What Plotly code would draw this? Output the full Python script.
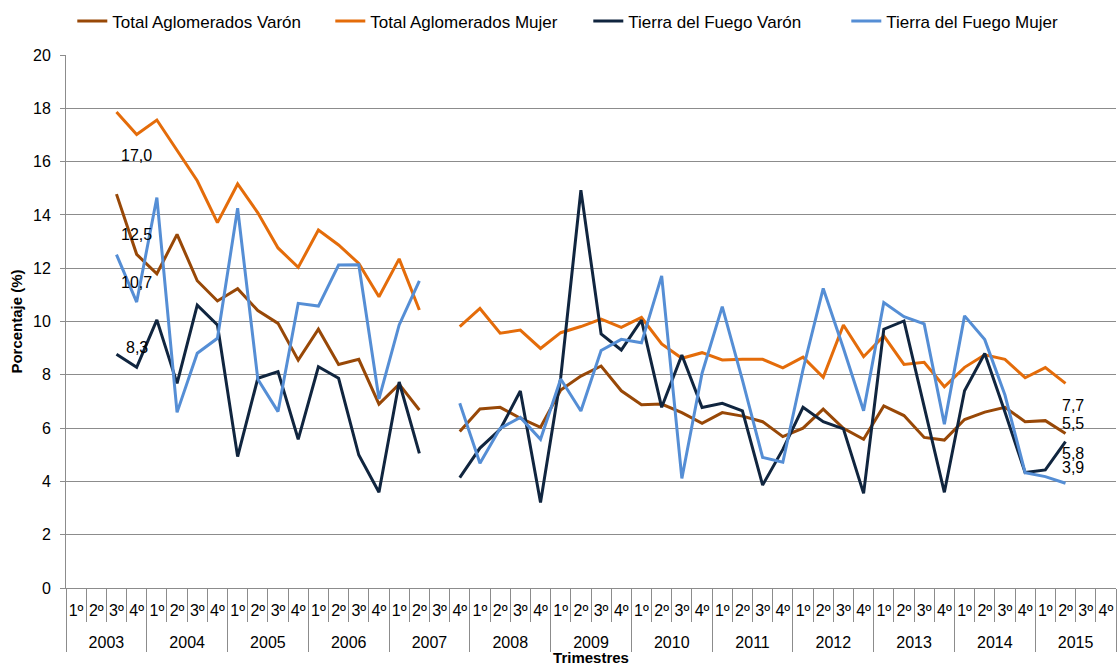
import plotly.graph_objects as go

years = ["2003", "2004", "2005", "2006", "2007", "2008", "2009",
         "2010", "2011", "2012", "2013", "2014", "2015"]
quarters = ["1º", "2º", "3º", "4º"]

total_varon = [None, None, 14.78, 12.52, 11.79, 13.27, 11.53, 10.77, 11.23, 10.41, 9.93, 8.55,
               9.71, 8.39, 8.58, 6.90, 7.65, 6.68, None, 5.87,
               6.72, 6.78, 6.37, 6.03, 7.43, 7.95, 8.33, 7.40,
               6.88, 6.90, 6.58, 6.18, 6.58, 6.45, 6.24, 5.68,
               6.00, 6.71, 5.99, 5.58, 6.83, 6.47, 5.65, 5.55,
               6.32, 6.60, 6.78, 6.24, 6.28, 5.80, None, None]
total_mujer = [None, None, 17.86, 17.02, 17.56, 16.43, 15.28, 13.71, 15.16, 14.08, 12.76, 12.03,
               13.43, 12.87, 12.18, 10.93, 12.35, 10.43, None, 9.81,
               10.49, 9.56, 9.68, 8.99, 9.58, 9.81, 10.09, 9.78,
               10.15, 9.16, 8.62, 8.83, 8.56, 8.58, 8.58, 8.26,
               8.66, 7.91, 9.87, 8.68, 9.46, 8.39, 8.47, 7.55,
               8.28, 8.75, 8.58, 7.89, 8.27, 7.68, None, None]
tdf_varon = [None, None, 8.77, 8.28, 10.06, 7.68, 10.61, 9.87, 4.93, 7.87, 8.12, 5.58,
             8.30, 7.87, 4.99, 3.59, 7.73, 5.05, None, 4.14,
             5.25, 5.95, 7.39, 3.21, 7.90, 14.93, 9.53, 8.93,
             10.05, 6.78, 8.74, 6.77, 6.93, 6.65, 3.86, 5.20,
             6.78, 6.24, 5.97, 3.55, 9.71, 10.02, 6.80, 3.59,
             7.40, 8.80, 6.60, 4.33, 4.43, 5.49, None, None]
tdf_mujer = [None, None, 12.51, 10.73, 14.65, 6.59, 8.81, 9.37, 14.25, 7.83, 6.62, 10.68,
             10.58, 12.12, 12.13, 7.10, 9.87, 11.52, None, 6.93,
             4.68, 5.99, 6.40, 5.58, 7.84, 6.64, 8.91, 9.33,
             9.20, 11.71, 4.11, 8.06, 10.56, 7.80, 4.90, 4.72,
             8.20, 11.24, 9.00, 6.65, 10.71, 10.18, 9.91, 6.15,
             10.21, 9.32, 7.24, 4.33, 4.18, 3.93, None, None]

series_names = ["Total Aglomerados Varón", "Total Aglomerados Mujer",
                "Tierra del Fuego Varón", "Tierra del Fuego Mujer"]
series_values = [total_varon, total_mujer, tdf_varon, tdf_mujer]
colors = ["#984807", "#E46C0A", "#10253F", "#558ED5"]

# multicategory x: year row is pushed one line lower via a leading line break
x_years = ["<br>" + y for y in years for _ in quarters]
x_quarters = [q for _ in years for q in quarters]

fig = go.Figure()
for name, vals, col in zip(series_names, series_values, colors):
    fig.add_trace(go.Scatter(
        x=[x_years, x_quarters], y=vals, name=name, mode="lines",
        line=dict(color=col, width=3), connectgaps=False))

# data labels: 2003 4º and last data quarter (2015 2º)
first_idx = 3
last_idx = 49
first_shift = [20, -21, 20, 20]
last_shift = [-20, -22, 18, 16]

def fmt(v):
    return f"{v:.1f}".replace(".", ",")

annotations = []
for vals, s1, s2 in zip(series_values, first_shift, last_shift):
    annotations.append(dict(x=first_idx, y=vals[first_idx], xref="x", yref="y",
                            text=fmt(vals[first_idx]), showarrow=False, yshift=s1,
                            font=dict(size=16, color="#000000")))
    annotations.append(dict(x=last_idx, y=vals[last_idx], xref="x", yref="y",
                            text=fmt(vals[last_idx]), showarrow=False, yshift=s2, xshift=7,
                            font=dict(size=16, color="#000000")))

grid = "#8C8C8C"
fig.update_layout(
    width=1119, height=668,
    margin=dict(l=66, r=3, t=55, b=80, autoexpand=False),
    paper_bgcolor="white", plot_bgcolor="white",
    font=dict(family="Liberation Sans, Arial, sans-serif", size=16, color="#000000"),
    legend=dict(orientation="h", x=0.006, xanchor="left", y=0.995, yanchor="top",
                yref="container", font=dict(size=17), itemwidth=30,
                entrywidth=213, entrywidthmode="pixels"),
    annotations=annotations,
    showlegend=True,
)
fig.update_xaxes(
    type="multicategory", showdividers=True, dividercolor=grid, dividerwidth=1,
    ticks="outside", tickson="boundaries", ticklen=33, tickcolor=grid,
    showline=True, linecolor=grid, linewidth=1, showgrid=False,
    tickfont=dict(size=16), tickangle=0, range=[-0.5, 51.5], ticklabelstandoff=8,
    title=dict(text="<b>Trimestres</b>", font=dict(size=15), standoff=2),
)
fig.update_yaxes(
    range=[0, 20], dtick=2, showgrid=True, gridcolor=grid, gridwidth=1,
    ticks="outside", ticklen=5, tickcolor=grid, showline=True, linecolor=grid,
    zeroline=False, tickfont=dict(size=16), ticklabelstandoff=6,
    title=dict(text="<b>Porcentaje (%)</b>", font=dict(size=15), standoff=6),
)

fig.write_html("out.html", config={"displayModeBar": False},
               post_script="document.body.style.margin='0';")
